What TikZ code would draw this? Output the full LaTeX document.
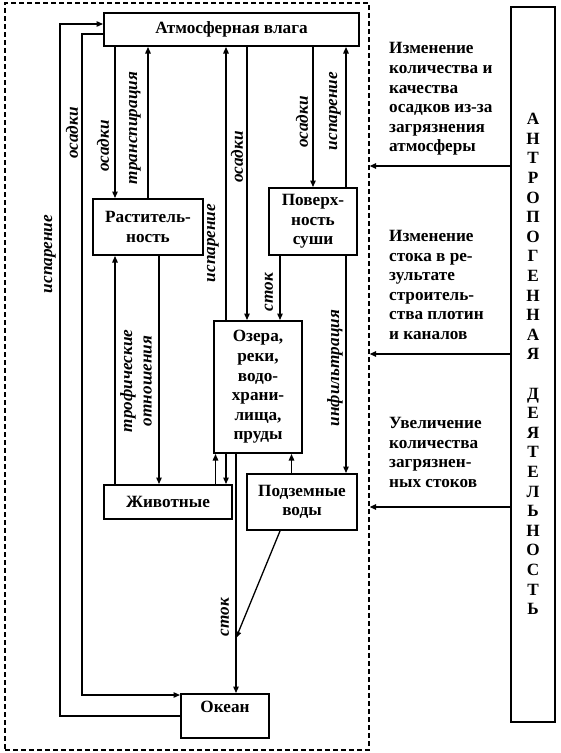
\documentclass[tikz,border=0pt]{standalone}
\usepackage{fontspec}
\setmainfont{Liberation Serif}
\usetikzlibrary{arrows.meta}
\newcommand{\myfs}{\fontsize{17.2}{19.6}\selectfont}
\begin{document}
\begin{tikzpicture}[x=1pt,y=-1pt,
  box/.style={draw, line width=2pt, inner sep=0pt, align=center, font=\myfs\bfseries},
  arr/.style={line width=1.3pt, -{Triangle[length=6.5pt,width=5.5pt]}},
  ln/.style={line width=1.3pt},
  lab/.style={rotate=90, font=\myfs\bfseries\itshape, inner sep=0pt},
  side/.style={font=\myfs\bfseries, align=left, anchor=west, inner sep=0pt}]
\useasboundingbox (0,0) rectangle (561,753);
% frame
\node[draw, line width=1.3pt, dash pattern=on 5pt off 3pt, minimum width=364pt, minimum height=747pt, inner sep=0pt] (frame) at (187,376.5) {};
% boxes
\node[box, minimum width=255pt, minimum height=33pt] (atm) at (231.5,29.5) {Атмосферная влага};
\node[box, minimum width=110pt, minimum height=56pt] (rast) at (148,227) {Раститель-\\ность};
\node[box, minimum width=88pt, minimum height=67pt] (pov) at (313,221.5) {Поверх-\\ность\\суши};
\node[box, minimum width=88pt, minimum height=132pt] (oz) at (258,387) {Озера,\\реки,\\водо-\\храни-\\лища,\\пруды};
\node[box, minimum width=128pt, minimum height=34pt] (zhiv) at (168,502) {Животные};
\node[box, minimum width=110pt, minimum height=56pt] (podz) at (302,502) {Подземные\\воды};
\node[box, minimum width=88pt, minimum height=44pt, text depth=18pt] (ocean) at (225,716) {Океан};
\node[box, minimum width=44pt, minimum height=715pt] (anth) at (533,364) {А\\Н\\Т\\Р\\О\\П\\О\\Г\\Е\\Н\\Н\\А\\Я\\\mbox{}\\Д\\Е\\Я\\Т\\Е\\Л\\Ь\\Н\\О\\С\\Т\\Ь};
% columns
\coordinate (cA) at (60,0);
\coordinate (cB) at (82,0);
\coordinate (c1) at (115,0);
\coordinate (c2) at (148,0);
\coordinate (c3) at (159,0);
\coordinate (c4) at (215.5,0);
\coordinate (c5) at (226,0);
\coordinate (c6) at (236,0);
\coordinate (c7) at (247,0);
\coordinate (c8) at (280,0);
\coordinate (c9) at (291.5,0);
\coordinate (c10) at (313,0);
\coordinate (c11) at (346,0);
\coordinate (r1) at (0,166);
\coordinate (r2) at (0,354);
\coordinate (r3) at (0,507);
\coordinate (yA) at (0,24);
\coordinate (yB) at (0,34);
\coordinate (yC) at (0,695);
\coordinate (j) at (236,638);
% outer loops
\draw[arr] (ocean.west) -| (cA |- yA) -- (atm.west |- yA);
\draw[arr] (atm.west |- yB) -| (cB |- yC) -- (ocean.west |- yC);
% atmosphere links
\draw[arr] (atm.south -| c1) -- (rast.north -| c1);
\draw[arr] (rast.north -| c2) -- (atm.south -| c2);
\draw[arr] (oz.north -| c5) -- (atm.south -| c5);
\draw[arr] (atm.south -| c7) -- (oz.north -| c7);
\draw[arr] (atm.south -| c10) -- (pov.north -| c10);
\draw[arr] (pov.north -| c11) -- (atm.south -| c11);
\draw[arr] (pov.south -| c8) -- (oz.north -| c8);
\draw[arr] (pov.south -| c11) -- (podz.north -| c11);
% trophic
\draw[arr] (zhiv.north -| c1) -- (rast.south -| c1);
\draw[arr] (rast.south -| c3) -- (zhiv.north -| c3);
% lakes
\draw[arr] (zhiv.north -| c4) -- (oz.south -| c4);
\draw[arr] (oz.south -| c5) -- (zhiv.north -| c5);
\draw[arr] (oz.south -| c6) -- (ocean.north -| c6);
\draw[arr] (podz.north -| c9) -- (oz.south -| c9);
\draw[arr] (podz.south -| c8) -- (j);
% anthropogenic arrows
\draw[arr] (anth.west |- r1) -- (frame.east |- r1);
\draw[arr] (anth.west |- r2) -- (frame.east |- r2);
\draw[arr] (anth.west |- r3) -- (frame.east |- r3);
% labels
\node[lab] (l1) at (72,133) {осадки};
\node[lab] (l2) at (50,254) {испарение};
\node[lab] (l3) at (103,146) {осадки};
\node[lab] (l4) at (135,128) {транспирация};
\node[lab] (l5) at (213,243) {испарение};
\node[lab] (l6) at (237,157) {осадки};
\node[lab] (l7) at (302,122) {осадки};
\node[lab] (l8) at (335,111) {испарение};
\node[lab] (l9) at (269,292) {сток};
\node[lab] (l10) at (335,368) {инфильтрация};
\node[lab, align=center] (l11) at (136,381) {трофические\\отношения};
\node[lab] (l12) at (225,617) {сток};
% side texts
\node[side] (t1) at (389,99) {Изменение\\количества и\\качества\\осадков из-за\\загрязнения\\атмосферы};
\node[side] (t2) at (389,285) {Изменение\\стока в ре-\\зультате\\строитель-\\ства плотин\\и каналов};
\node[side] (t3) at (389,452.5) {Увеличение\\количества\\загрязнен-\\ных стоков};
\end{tikzpicture}
\end{document}
